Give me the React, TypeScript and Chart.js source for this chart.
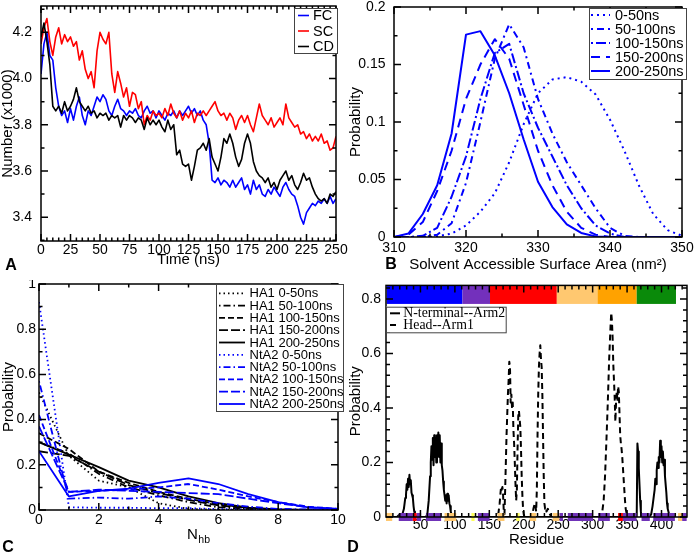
import React, { useEffect, useRef } from 'react';
import { Chart, registerables } from 'chart.js';

Chart.register(...registerables);

const SANS = "'Liberation Sans', Arial, Helvetica, sans-serif";
const SERIF = "'Liberation Serif', 'Times New Roman', Times, serif";
const BLUE = '#0000ff';
const RED = '#ff0000';
const BLACK = '#000000';

// ================= Panel A: Number vs time =================
const timeStepNs = 2.5;
const fcNumber = [
  4.02, 4.15, 4.20, 4.10, 4.08, 3.96, 3.88, 3.84, 3.86, 3.81, 3.87, 3.82, 3.88, 3.92, 3.84, 3.80, 3.86, 3.84, 3.88, 3.92,
  3.90, 3.93, 3.91, 3.86, 3.84, 3.88, 3.91, 3.87, 3.86, 3.84, 3.86, 3.85, 3.87, 3.84, 3.83, 3.86, 3.88, 3.85, 3.86, 3.83,
  3.86, 3.84, 3.82, 3.85, 3.84, 3.86, 3.83, 3.86, 3.84, 3.86, 3.88, 3.85, 3.87, 3.84, 3.86, 3.82, 3.80, 3.72, 3.56, 3.55,
  3.57, 3.54, 3.56, 3.55, 3.53, 3.56, 3.53, 3.55, 3.57, 3.52, 3.54, 3.50, 3.56, 3.52, 3.54, 3.50, 3.49, 3.52, 3.50, 3.53,
  3.51, 3.49, 3.53, 3.55, 3.52, 3.50, 3.49, 3.45, 3.40, 3.37, 3.42, 3.44, 3.46, 3.45, 3.47, 3.46, 3.48, 3.46, 3.49, 3.46,
  3.48,
];
const scNumber = [
  4.15, 4.22, 4.26, 4.16, 4.10, 4.18, 4.22, 4.15, 4.19, 4.16, 4.18, 4.14, 4.16, 4.08, 4.12, 4.04, 4.00, 4.03, 3.96, 4.12,
  4.20, 4.17, 4.15, 4.20, 4.02, 3.94, 4.03, 3.98, 3.92, 3.96, 3.88, 3.94, 3.93, 3.87, 3.90, 3.80, 3.84, 3.82, 3.86, 3.84,
  3.85, 3.83, 3.87, 3.84, 3.89, 3.85, 3.83, 3.86, 3.82, 3.85, 3.83, 3.86, 3.81, 3.85, 3.84, 3.86, 3.84, 3.86, 3.88, 3.90,
  3.86, 3.84, 3.85, 3.82, 3.85, 3.83, 3.78, 3.82, 3.84, 3.81, 3.84, 3.80, 3.77, 3.83, 3.89, 3.84, 3.82, 3.80, 3.83, 3.79,
  3.81, 3.83, 3.80, 3.89, 3.83, 3.81, 3.79, 3.80, 3.76, 3.77, 3.74, 3.76, 3.73, 3.75, 3.73, 3.76, 3.72, 3.73, 3.69, 3.70,
  3.75,
];
const cdNumber = [
  4.18, 4.24, 4.16, 4.06, 3.88, 3.86, 3.88, 3.85, 3.90, 3.86, 3.88, 3.91, 3.96, 3.90, 3.88, 3.86, 3.88, 3.85, 3.86, 3.83,
  3.85, 3.84, 3.85, 3.82, 3.84, 3.83, 3.84, 3.79, 3.84, 3.82, 3.84, 3.83, 3.81, 3.83, 3.82, 3.78, 3.83, 3.80, 3.82, 3.80,
  3.82, 3.79, 3.77, 3.82, 3.78, 3.80, 3.67, 3.69, 3.63, 3.62, 3.63, 3.56, 3.62, 3.69, 3.70, 3.72, 3.69, 3.74, 3.66, 3.63,
  3.60, 3.66, 3.74, 3.72, 3.76, 3.72, 3.66, 3.62, 3.65, 3.72, 3.76, 3.72, 3.64, 3.60, 3.58, 3.57, 3.55, 3.57, 3.53, 3.55,
  3.52, 3.56, 3.58, 3.60, 3.56, 3.58, 3.54, 3.52, 3.55, 3.59, 3.56, 3.57, 3.53, 3.50, 3.48, 3.47, 3.48, 3.46, 3.50, 3.49,
  3.51,
];
const timeTicks = [0, 25, 50, 75, 100, 125, 150, 175, 200, 225, 250];
const timeTickLabels = ['0', '25', '50', '75', '100', '125', '150', '175', '200', '225', '250'];
const numberTicks = [3.4, 3.6, 3.8, 4.0, 4.2];
const numberTickLabels = ['3.4', '3.6', '3.8', '4.0', '4.2'];
const seriesNamesA = ['FC', 'SC', 'CD'];

// ================= Panel B: SASA distributions =================
const sasaGrid = [310, 312, 314, 316, 318, 320, 322, 324, 326, 328, 330, 332, 334, 336, 338, 340, 342, 344, 346, 348, 350];
const sasa0to50 = [0, 0, 0, 0.0005, 0.003, 0.01, 0.022, 0.038, 0.065, 0.098, 0.125, 0.137, 0.139, 0.135, 0.124, 0.102, 0.075, 0.045, 0.02, 0.006, 0.001];
const sasa50to100 = [0, 0, 0, 0.002, 0.012, 0.047, 0.1, 0.155, 0.185, 0.165, 0.12, 0.09, 0.065, 0.045, 0.025, 0.008, 0.001, 0, 0, 0, 0];
const sasa100to150 = [0, 0, 0.001, 0.008, 0.035, 0.07, 0.12, 0.16, 0.168, 0.125, 0.095, 0.07, 0.045, 0.025, 0.01, 0.003, 0, 0, 0, 0, 0];
const sasa150to200 = [0, 0.002, 0.013, 0.04, 0.075, 0.12, 0.15, 0.172, 0.155, 0.115, 0.075, 0.045, 0.022, 0.008, 0.002, 0, 0, 0, 0, 0, 0];
const sasa200to250 = [0, 0.003, 0.02, 0.045, 0.09, 0.176, 0.179, 0.158, 0.125, 0.085, 0.048, 0.026, 0.011, 0.0035, 0.0005, 0, 0, 0, 0, 0, 0];
const periodNames = ['0-50ns', '50-100ns', '100-150ns', '150-200ns', '200-250ns'];
const sasaTicks = [310, 320, 330, 340, 350];
const sasaTickLabels = ['310', '320', '330', '340', '350'];
const probTicksB = [0, 0.05, 0.1, 0.15, 0.2];
const probTickLabelsB = ['0', '0.05', '0.1', '0.15', '0.2'];

// ================= Panel C: H-bond number distributions =================
const nhbGrid = [0, 1, 2, 3, 4, 5, 6, 7, 8, 9, 10];
const ha1_0to50 = [0.52, 0.24, 0.13, 0.1, 0.03, 0.005, 0.001, 0, 0, 0, 0];
const ha1_50to100 = [0.3, 0.25, 0.16, 0.1, 0.065, 0.035, 0.012, 0.004, 0.001, 0, 0];
const ha1_100to150 = [0.34, 0.27, 0.17, 0.12, 0.08, 0.05, 0.025, 0.01, 0.002, 0, 0];
const ha1_150to200 = [0.26, 0.24, 0.17, 0.11, 0.075, 0.045, 0.02, 0.008, 0.002, 0, 0];
const ha1_200to250 = [0.3, 0.245, 0.19, 0.13, 0.1, 0.06, 0.03, 0.01, 0.003, 0.001, 0];
const nta2_0to50 = [0.92, 0.012, 0.01, 0.01, 0.008, 0.008, 0.004, 0.002, 0.001, 0, 0];
const nta2_50to100 = [0.57, 0.05, 0.055, 0.05, 0.06, 0.05, 0.03, 0.015, 0.005, 0.002, 0];
const nta2_100to150 = [0.42, 0.08, 0.085, 0.09, 0.1, 0.115, 0.09, 0.06, 0.035, 0.015, 0.005];
const nta2_150to200 = [0.37, 0.08, 0.09, 0.085, 0.08, 0.075, 0.07, 0.05, 0.03, 0.012, 0.005];
const nta2_200to250 = [0.26, 0.06, 0.085, 0.095, 0.12, 0.14, 0.115, 0.07, 0.035, 0.012, 0.005];
const nhbTicks = [0, 2, 4, 6, 8, 10];
const nhbTickLabels = ['0', '2', '4', '6', '8', '10'];
const probTicksC = [0, 0.2, 0.4, 0.6, 0.8, 1];
const probTickLabelsC = ['0', '0.2', '0.4', '0.6', '0.8', '1'];

// ================= Panel D: contact probability per residue =================
const ntermArm2Profile = [
  [1, 0], [16, 0], [20, 0.01], [24, 0.012], [26, 0.03], [28, 0.07], [29, 0.08], [30, 0.12], [31, 0.1], [32, 0.14],
  [33, 0.11], [34, 0.155], [35, 0.12], [36, 0.135], [37, 0.09], [38, 0.08], [39, 0.07], [40, 0.04], [41, 0.02], [42, 0.01],
  [44, 0], [58, 0], [60, 0.01], [62, 0.06], [64, 0.15], [65, 0.2], [66, 0.26], [67, 0.21], [68, 0.29], [69, 0.19],
  [70, 0.3], [71, 0.22], [72, 0.29], [73, 0.2], [74, 0.3], [75, 0.23], [76, 0.31], [77, 0.22], [78, 0.3], [79, 0.2],
  [80, 0.27], [81, 0.19], [82, 0.17], [83, 0.13], [84, 0.1], [85, 0.08], [86, 0.06], [87, 0.08], [88, 0.05], [89, 0.085],
  [90, 0.06], [91, 0.08], [92, 0.05], [93, 0.04], [94, 0.02], [95, 0.01], [97, 0], [364, 0], [365, 0.27], [366, 0.24],
  [367, 0.18], [368, 0.12], [369, 0.06], [370, 0.02], [371, 0], [382, 0], [385, 0.01], [387, 0.04], [389, 0.08], [390, 0.1],
  [391, 0.14], [392, 0.12], [393, 0.17], [394, 0.2], [395, 0.18], [396, 0.22], [397, 0.2], [398, 0.28], [399, 0.22], [400, 0.26],
  [401, 0.2], [402, 0.24], [403, 0.19], [404, 0.21], [405, 0.15], [406, 0.12], [407, 0.09], [408, 0.05], [409, 0.03], [410, 0.02],
  [412, 0], [421, 0],
];
const headArm1Profile = [
  [150, 0], [160, 0], [163, 0.01], [165, 0.05], [167, 0.11], [168, 0.1], [169, 0.11], [170, 0.08], [171, 0.02], [172, 0.01],
  [173, 0.1], [175, 0.3], [177, 0.45], [178, 0.5], [179, 0.57], [180, 0.55], [181, 0.42], [182, 0.45], [183, 0.4], [184, 0.42],
  [185, 0.32], [186, 0.27], [187, 0.2], [188, 0.12], [189, 0.06], [190, 0.1], [191, 0.25], [192, 0.37], [193, 0.39], [194, 0.36],
  [195, 0.33], [196, 0.25], [197, 0.15], [198, 0.08], [199, 0.03], [200, 0.01], [201, 0], [212, 0], [214, 0.03], [216, 0.05],
  [217, 0.04], [218, 0.02], [219, 0.1], [220, 0.3], [221, 0.45], [222, 0.55], [223, 0.6], [224, 0.63], [225, 0.58], [226, 0.55],
  [227, 0.45], [228, 0.3], [229, 0.15], [230, 0.05], [231, 0.03], [232, 0.035], [233, 0.02], [235, 0.03], [236, 0.02], [238, 0.01],
  [240, 0], [312, 0], [314, 0.02], [316, 0.06], [318, 0.15], [320, 0.28], [322, 0.42], [324, 0.58], [326, 0.7], [327, 0.75],
  [328, 0.72], [329, 0.66], [330, 0.56], [331, 0.5], [332, 0.44], [333, 0.35], [334, 0.42], [335, 0.46], [336, 0.43], [337, 0.48],
  [338, 0.46], [339, 0.38], [340, 0.3], [341, 0.27], [342, 0.25], [343, 0.22], [344, 0.18], [345, 0.14], [346, 0.1], [347, 0.06],
  [348, 0.03], [350, 0.005], [352, 0], [360, 0],
];
const domainStart = [1, 111, 151, 248, 307, 364];
const domainEnd = [111, 151, 248, 307, 364, 421];
// secondary structure: h = helix, s = strand, t = turn, r = other
const ssSegments: [number, number, string][] = [
  [0, 9, 's'], [18.5, 39, 'h'], [39, 44.6, 'r'], [44.6, 51, 'h'], [58, 80, 'h'], [85, 102, 's'], [124, 128.6, 't'],
  [133.4, 150.4, 'h'], [162, 172, 's'], [189, 194, 't'], [208.6, 218, 's'], [242, 252, 's'], [252, 257, 'h'],
  [264, 300.6, 'h'], [308, 325, 'h'], [337, 344, 'r'], [344, 363.7, 'h'], [371, 383, 'h'], [388, 419.4, 'h'],
  [424, 430, 's'], [430, 436.5, 'h'],
];
const residueTicks = [50, 100, 150, 200, 250, 300, 350, 400];
const residueTickLabels = ['50', '100', '150', '200', '250', '300', '350', '400'];
const probTicksD = [0, 0.2, 0.4, 0.6, 0.8];
const probTickLabelsD = ['0', '0.2', '0.4', '0.6', '0.8'];

// ================= styling =================
const DOMAIN_COLORS = ['#0000ff', '#7330bc', '#ff0000', '#ffc870', '#ffa200', '#0a8a0a'];
const SS_COLORS: Record<string, string> = { h: '#7033b8', s: '#ffc870', t: '#ffff5a', r: '#ff0000' };
const DASH_B = [[2, 4], [2, 4, 7, 4], [2, 3, 10, 3], [9, 6], []];
const DASH_C = [[1.5, 3], [1.5, 3, 7, 3], [6, 3], [9, 3], []];

const steps = (a: number, b: number, s: number) => {
  const r: number[] = [];
  for (let v = a; v <= b + 1e-9; v += s) r.push(+v.toFixed(6));
  return r;
};
const toPoints = (xs: number[], ys: number[]) => ys.map((y, i) => ({ x: xs[i], y }));
const pairsToPoints = (pairs: number[][]) => pairs.map(([x, y]) => ({ x, y }));

function lineDs(label: string, data: any[], color: string, dash: number[], width: number, order = 0) {
  return {
    label, data, borderColor: color, backgroundColor: color, borderWidth: width, borderDash: dash,
    pointRadius: 0, fill: false, tension: 0, order, borderJoinStyle: 'round',
  };
}

function drawFrame(chart: any, spec: any) {
  const { ctx, chartArea: a } = chart;
  const xs = chart.scales.x;
  const ys = chart.scales.y;
  const maj = spec.tickLen ?? 7;
  const min = spec.minorLen ?? 3.5;
  ctx.save();
  ctx.strokeStyle = '#000';
  ctx.lineWidth = 1.5;
  ctx.setLineDash([]);
  ctx.beginPath();
  const xt = (v: number, len: number) => {
    const p = xs.getPixelForValue(v);
    if (p < a.left - 0.5 || p > a.right + 0.5) return;
    ctx.moveTo(p, a.bottom); ctx.lineTo(p, a.bottom - len);
    ctx.moveTo(p, a.top); ctx.lineTo(p, a.top + len);
  };
  const yt = (v: number, len: number) => {
    const p = ys.getPixelForValue(v);
    if (p < a.top - 0.5 || p > a.bottom + 0.5) return;
    ctx.moveTo(a.left, p); ctx.lineTo(a.left + len, p);
    ctx.moveTo(a.right, p); ctx.lineTo(a.right - len, p);
  };
  spec.x.minor.forEach((v: number) => xt(v, min));
  spec.x.major.forEach((v: number) => xt(v, maj));
  spec.y.minor.forEach((v: number) => yt(v, min));
  spec.y.major.forEach((v: number) => yt(v, maj));
  ctx.stroke();
  ctx.strokeRect(a.left, a.top, a.right - a.left, a.bottom - a.top);
  ctx.restore();
}

function drawLegend(chart: any, L: any) {
  const ctx = chart.ctx;
  ctx.save();
  const [bx, by, bw, bh] = L.box;
  ctx.fillStyle = '#fff';
  ctx.fillRect(bx, by, bw, bh);
  ctx.strokeStyle = '#444';
  ctx.lineWidth = 1;
  ctx.strokeRect(bx + 0.5, by + 0.5, bw, bh);
  chart.data.datasets.forEach((ds: any, i: number) => {
    const y = L.rowY0 + i * L.rowH;
    ctx.strokeStyle = ds.borderColor;
    ctx.lineWidth = ds.borderWidth;
    ctx.setLineDash(ds.borderDash || []);
    ctx.beginPath();
    ctx.moveTo(L.line[0], y);
    ctx.lineTo(L.line[1], y);
    ctx.stroke();
    ctx.setLineDash([]);
    ctx.fillStyle = '#000';
    ctx.font = L.font;
    ctx.textAlign = 'left';
    ctx.textBaseline = 'middle';
    ctx.fillText(ds.label, L.textX, y + 0.5);
  });
  ctx.restore();
}

function buildConfig(spec: any) {
  const L = spec.layout;
  const xHeight = L.xScaleBottom - L.bottom;
  const padB = L.H - L.xScaleBottom;
  const tickFont = { family: SANS, size: 14, lineHeight: 1 };
  const titleFont = { family: SANS, size: 15, lineHeight: 1 };
  const decor = {
    id: 'decor',
    afterDraw(chart: any) {
      if (spec.extra) spec.extra(chart);
      drawFrame(chart, spec);
      if (spec.legend) drawLegend(chart, spec.legend);
      if (spec.afterAll) spec.afterAll(chart);
    },
  };
  return {
    type: 'line',
    data: { datasets: spec.datasets },
    options: {
      responsive: false,
      maintainAspectRatio: false,
      animation: false,
      events: [],
      layout: { padding: { left: 0, top: L.top, right: L.W - L.right, bottom: padB } },
      plugins: { legend: { display: false }, tooltip: { enabled: false } },
      scales: {
        x: {
          type: 'linear', min: spec.x.min, max: spec.x.max,
          grid: { display: false, drawTicks: false }, border: { display: false },
          ticks: {
            autoSkip: false, maxRotation: 0, minRotation: 0, padding: L.xTickPad, color: '#000', font: tickFont,
            callback: (_v: any, i: number) => spec.x.labels[i],
          },
          title: spec.x.title
            ? { display: true, text: spec.x.title, color: '#000', font: titleFont, padding: { top: 0, bottom: 0 } }
            : { display: false },
          afterBuildTicks: (s: any) => { s.ticks = spec.x.major.map((v: number) => ({ value: v })); },
          afterFit: (s: any) => { s.height = xHeight; s.paddingLeft = 0; s.paddingRight = 0; },
        },
        y: {
          type: 'linear', min: spec.y.min, max: spec.y.max,
          grid: { display: false, drawTicks: false }, border: { display: false },
          ticks: {
            autoSkip: false, padding: L.yTickPad, color: '#000', font: tickFont,
            callback: (_v: any, i: number) => spec.y.labels[i],
          },
          title: { display: true, text: spec.y.title, color: '#000', font: titleFont, padding: { top: L.yTitlePad, bottom: 0 } },
          afterBuildTicks: (s: any) => { s.ticks = spec.y.major.map((v: number) => ({ value: v })); },
          afterFit: (s: any) => { s.width = L.left; s.paddingTop = 0; s.paddingBottom = 0; },
        },
      },
    },
    plugins: [decor],
  };
}

function specA() {
  const timeA = fcNumber.map((_, i) => i * timeStepNs);
  return {
    layout: { W: 348, H: 280, left: 41, right: 336, top: 6, bottom: 241, xScaleBottom: 267.5, xTickPad: 2, yTickPad: 9, yTitlePad: 0 },
    x: { min: 0, max: 250, major: timeTicks, labels: timeTickLabels, minor: steps(0, 250, 5), title: 'Time (ns)' },
    y: { min: 3.297, max: 4.314, major: numberTicks, labels: numberTickLabels, minor: steps(3.3, 4.3, 0.1), title: 'Number (x1000)' },
    datasets: [
      lineDs(seriesNamesA[0], toPoints(timeA, fcNumber), BLUE, [], 1.6, 2),
      lineDs(seriesNamesA[1], toPoints(timeA, scNumber), RED, [], 1.6, 1),
      lineDs(seriesNamesA[2], toPoints(timeA, cdNumber), BLACK, [], 1.6, 0),
    ],
    legend: { box: [294, 8, 43, 45], rowY0: 15.5, rowH: 15.5, line: [298, 309], textX: 313, font: `14.5px ${SANS}` },
  };
}

function specB() {
  const series = [sasa0to50, sasa50to100, sasa100to150, sasa150to200, sasa200to250];
  return {
    layout: { W: 349, H: 280, left: 46, right: 334, top: 7, bottom: 237, xScaleBottom: 272, xTickPad: 4, yTickPad: 8.5, yTitlePad: 0 },
    x: { min: 310, max: 350, major: sasaTicks, labels: sasaTickLabels, minor: steps(310, 350, 5), title: 'Solvent Accessible Surface Area (nm²)' },
    y: { min: 0, max: 0.2, major: probTicksB, labels: probTickLabelsB, minor: steps(0, 0.2, 0.025), title: 'Probability' },
    datasets: series.map((s, i) => lineDs(periodNames[i], toPoints(sasaGrid, s), BLUE, DASH_B[i], 2, i)),
    legend: { box: [241, 8, 97, 71], rowY0: 15, rowH: 14, line: [243, 262], textX: 267, font: `14.5px ${SANS}` },
  };
}

function specC() {
  const ha1 = [ha1_0to50, ha1_50to100, ha1_100to150, ha1_150to200, ha1_200to250];
  const nta2 = [nta2_0to50, nta2_50to100, nta2_100to150, nta2_150to200, nta2_200to250];
  const datasets = [
    ...ha1.map((s, i) => lineDs(`HA1 ${periodNames[i]}`, toPoints(nhbGrid, s), BLACK, DASH_C[i], 1.8, 10 + i)),
    ...nta2.map((s, i) => lineDs(`NtA2 ${periodNames[i]}`, toPoints(nhbGrid, s), BLUE, DASH_C[i], 1.8, i)),
  ];
  return {
    layout: { W: 348, H: 280, left: 39, right: 338, top: 4, bottom: 230, xScaleBottom: 262, xTickPad: 3, yTickPad: 3, yTitlePad: 1.7 },
    x: { min: 0, max: 10, major: nhbTicks, labels: nhbTickLabels, minor: steps(0, 10, 1), title: '' },
    y: { min: 0, max: 1, major: probTicksC, labels: probTickLabelsC, minor: steps(0, 1, 0.1), title: 'Probability' },
    datasets,
    legend: { box: [216, 4, 127, 127], rowY0: 13.3, rowH: 12.3, line: [219, 245], textX: 249.5, font: `13px ${SANS}` },
    afterAll: (chart: any) => {
      const { ctx, chartArea: a } = chart;
      ctx.save();
      ctx.fillStyle = '#000';
      ctx.textAlign = 'left';
      ctx.textBaseline = 'alphabetic';
      ctx.font = `15px ${SANS}`;
      const x0 = (a.left + a.right) / 2 - 1.5;
      ctx.fillText('N', x0, a.bottom + 28.5);
      const w = ctx.measureText('N').width;
      ctx.font = `10.5px ${SANS}`;
      ctx.fillText('hb', x0 + w + 0.5, a.bottom + 33);
      ctx.restore();
    },
  };
}

function specD() {
  const barBottom = 0.782;
  const barTop = 0.848;
  return {
    layout: { W: 349, H: 280, left: 38, right: 339, top: 5.4, bottom: 237, xScaleBottom: 267.5, xTickPad: 1, yTickPad: 5, yTitlePad: 0 },
    x: { min: 0, max: 437, major: residueTicks, labels: residueTickLabels, minor: steps(10, 430, 10), title: 'Residue' },
    y: { min: 0, max: 0.85, major: probTicksD, labels: probTickLabelsD, minor: steps(0, 0.84, 0.04), title: 'Probability' },
    datasets: [
      lineDs('N-terminal--Arm2', pairsToPoints(ntermArm2Profile), BLACK, [], 2, 0),
      lineDs('Head--Arm1', pairsToPoints(headArm1Profile), BLACK, [6, 4], 2, 1),
    ],
    legend: { box: [38, 26.7, 119.7, 25.6], rowY0: 33.3, rowH: 11.7, line: [42, 52], textX: 55.3, font: `13.8px ${SERIF}` },
    tickLen: 7,
    minorLen: 4,
    extra: (chart: any) => {
      const { ctx } = chart;
      const xs = chart.scales.x;
      const ys = chart.scales.y;
      ctx.save();
      const yT = ys.getPixelForValue(barTop);
      const yB = ys.getPixelForValue(barBottom);
      domainStart.forEach((s, i) => {
        const x0 = xs.getPixelForValue(s);
        const x1 = xs.getPixelForValue(domainEnd[i]);
        ctx.fillStyle = DOMAIN_COLORS[i];
        ctx.fillRect(x0, yT, x1 - x0, yB - yT);
      });
      const y0 = ys.getPixelForValue(0);
      ssSegments.forEach(([s, e, c]) => {
        const x0 = xs.getPixelForValue(s);
        const x1 = xs.getPixelForValue(e);
        ctx.fillStyle = SS_COLORS[c];
        ctx.fillRect(x0, y0 - 4, x1 - x0, 8);
      });
      ctx.restore();
    },
  };
}

function Panel(props: { make: () => any; left: number; top: number; width: number; height: number }) {
  const ref = useRef<HTMLCanvasElement>(null);
  useEffect(() => {
    if (!ref.current) return;
    const chart = new Chart(ref.current, buildConfig(props.make()) as any);
    return () => chart.destroy();
  }, []);
  const { left, top, width, height } = props;
  return (
    <canvas
      ref={ref}
      width={width}
      height={height}
      style={{ position: 'absolute', left, top, width, height, display: 'block' }}
    />
  );
}

const letterStyle = (cx: number, cy: number): React.CSSProperties => ({
  position: 'absolute', left: cx, top: cy, transform: 'translate(-50%, -50%)',
  fontFamily: SANS, fontWeight: 'bold', fontSize: 16, lineHeight: '16px', color: '#000',
});

export default function App() {
  Chart.defaults.font.family = SANS;
  Chart.defaults.color = '#000';
  return (
    <div style={{ position: 'absolute', left: 0, top: 0, width: 697, height: 560, background: '#fff', overflow: 'hidden' }}>
      <Panel make={specA} left={0} top={0} width={348} height={280} />
      <Panel make={specB} left={348} top={0} width={349} height={280} />
      <Panel make={specC} left={0} top={280} width={348} height={280} />
      <Panel make={specD} left={348} top={280} width={349} height={280} />
      <div style={letterStyle(11, 265)}>A</div>
      <div style={letterStyle(391, 264)}>B</div>
      <div style={letterStyle(8, 547)}>C</div>
      <div style={letterStyle(353, 547)}>D</div>
    </div>
  );
}
